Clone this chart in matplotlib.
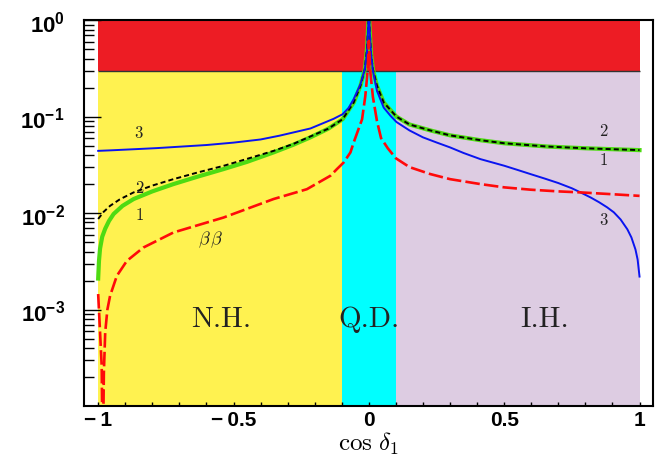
import numpy as np
import matplotlib
matplotlib.use('Agg')
import matplotlib.pyplot as plt
from matplotlib.ticker import FixedLocator, LogLocator, NullFormatter, MultipleLocator

#Colours
red_band = '#ED1C24'
yellow = '#FFF250'
cyan = '#00FFFF'
lavender = '#DDCCE2'

#Regions in cos(delta_1): N.H., Q.D., I.H.
region_edges = [-1.0, -0.1, 0.1, 1.0]
region_colors = [yellow, cyan, lavender]
region_names = ['N.H.', 'Q.D.', 'I.H.']
excluded_min = 0.3   #red band from here up to 1

#Curve 3 (blue)
cos_blue = [-1.0, -0.95, -0.9, -0.85, -0.783, -0.7, -0.6, -0.5, -0.4, -0.33, -0.27, -0.216, -0.167,
            -0.13, -0.097, -0.075, -0.056, -0.031, -0.015, -0.007, -0.002, 0.0,
            0.003, 0.008, 0.015, 0.03, 0.055, 0.08, 0.102, 0.15, 0.2, 0.25, 0.3, 0.35, 0.412,
            0.5, 0.55, 0.597, 0.65, 0.7, 0.75, 0.782, 0.82, 0.85, 0.88, 0.905, 0.93, 0.955,
            0.97, 0.985, 0.993, 1.0]
val_blue = [0.0442, 0.0448, 0.0455, 0.0462, 0.0472, 0.0488, 0.0508, 0.0538, 0.058, 0.0635, 0.0695,
            0.0754, 0.086, 0.095, 0.106, 0.123, 0.152, 0.217, 0.31, 0.46, 0.9, 1.3,
            0.8, 0.45, 0.30, 0.185, 0.124, 0.102, 0.088, 0.072, 0.061, 0.054, 0.048, 0.042, 0.0363,
            0.031, 0.028, 0.0254, 0.0228, 0.0205, 0.0181, 0.0164, 0.0145, 0.013, 0.0115, 0.0102,
            0.0086, 0.0068, 0.0056, 0.0042, 0.0033, 0.0022]

#Curve 2 (black dashed)
cos_black = [-1.0, -0.98, -0.956, -0.92, -0.869, -0.8, -0.722, -0.63, -0.537, -0.45, -0.352,
             -0.28, -0.216, -0.15, -0.097, -0.056, -0.031, -0.015, -0.007, -0.002, 0.0,
             0.003, 0.008, 0.015, 0.03, 0.055, 0.102, 0.15, 0.227, 0.3, 0.412, 0.5, 0.659, 0.8, 1.0]
val_black = [0.0087, 0.0103, 0.0119, 0.0139, 0.0164, 0.0193, 0.0225, 0.0265, 0.0309, 0.0365, 0.0442,
             0.052, 0.0623, 0.075, 0.094, 0.14, 0.209, 0.31, 0.5, 0.9, 1.3,
             0.8, 0.45, 0.31, 0.209, 0.14, 0.1, 0.083, 0.072, 0.064, 0.057, 0.053, 0.049, 0.047, 0.045]

#Curve 1 (green)
cos_green = [-1.0, -0.997, -0.993, -0.985, -0.974, -0.96, -0.943, -0.91, -0.869, -0.8, -0.722,
             -0.63, -0.537, -0.45, -0.352, -0.28, -0.216, -0.15, -0.097, -0.056, -0.031, -0.015,
             -0.007, -0.002, 0.0, 0.003, 0.008, 0.015, 0.03, 0.055, 0.102, 0.15, 0.227, 0.3,
             0.412, 0.5, 0.659, 0.8, 1.0]
val_green = [0.0021, 0.0032, 0.0043, 0.0057, 0.0069, 0.0083, 0.0098, 0.0119, 0.014, 0.0168, 0.020,
             0.024, 0.0286, 0.034, 0.0426, 0.051, 0.061, 0.075, 0.094, 0.14, 0.209, 0.31,
             0.5, 0.9, 1.3, 0.8, 0.45, 0.31, 0.209, 0.14, 0.1, 0.083, 0.072, 0.064,
             0.057, 0.053, 0.049, 0.047, 0.045]

#Neutrinoless double beta (red long dashes)
cos_bb = [-1.0, -0.993, -0.987, -0.983, -0.979, -0.974, -0.966, -0.956, -0.931, -0.894, -0.833,
          -0.722, -0.537, -0.352, -0.229, -0.142, -0.118, -0.093, -0.068, -0.056, -0.025, -0.013,
          -0.004, 0.0, 0.005, 0.015, 0.03, 0.045, 0.07, 0.1, 0.15, 0.227, 0.3, 0.412, 0.5, 0.597,
          0.7, 0.782, 0.9, 1.0]
val_bb = [0.00145, 0.00058, 0.00026, 0.00002, 0.00022, 0.00058, 0.001, 0.00139, 0.00224, 0.0032, 0.0044,
          0.0063, 0.009, 0.014, 0.0177, 0.0244, 0.0286, 0.0335, 0.0426, 0.054, 0.094, 0.164,
          0.31, 0.61, 0.30, 0.16, 0.09, 0.06, 0.047, 0.037, 0.030, 0.0254, 0.0225, 0.020, 0.0185, 0.0175,
          0.0168, 0.0164, 0.0157, 0.0151]

plt.rcParams['mathtext.fontset'] = 'cm'
plt.rcParams['mathtext.bf'] = 'Liberation Sans:bold'
plt.rcParams['mathtext.rm'] = 'Liberation Sans:bold'

fig = plt.figure(figsize=(6.57, 4.6), dpi=100)
ax = fig.add_axes([0.128, 0.115, 0.866, 0.839])

#Background regions
for i in range(3):
    ax.fill_between([region_edges[i], region_edges[i+1]], 1e-4, excluded_min,
                    color=region_colors[i], lw=0, zorder=0)
ax.fill_between([region_edges[0], region_edges[-1]], excluded_min, 1.0, color=red_band, lw=0, zorder=0)
ax.hlines(excluded_min, region_edges[0], region_edges[-1], color='#333333', lw=1.0, zorder=1)

#Curves
ax.plot(cos_green, val_green, color='#4EDB12', lw=3.0, zorder=2)
ax.plot(cos_black, val_black, color='black', lw=1.4, dashes=(2.6, 1.6), zorder=3)
ax.plot(cos_blue, val_blue, color='#0A14F0', lw=1.4, zorder=4)
ax.plot(cos_bb, val_bb, color='#FF0A0A', lw=1.9, dashes=(5.5, 1.6), zorder=5)

ax.set_yscale('log')
ax.set_xlim(-1.052, 1.05)
ax.set_ylim(1e-4, 1.0)

#Curve labels
lab = dict(fontsize=12, fontfamily='cmr10', color='#222222', ha='center', va='center', zorder=6)
ax.text(-0.852, 0.069, '3', **lab)
ax.text(-0.848, 0.0186, '2', **lab)
ax.text(-0.848, 0.0098, '1', **lab)
ax.text(0.867, 0.0724, '2', **lab)
ax.text(0.867, 0.036, '1', **lab)
ax.text(0.867, 0.0087, '3', **lab)
ax.text(-0.585, 0.0054, r'$\beta\,\beta$', fontsize=13, math_fontfamily='cm', color='#222222',
        ha='center', va='center', zorder=6)

#Region names
region_x = [-0.545, 0.0, 0.65]
for xr, name in zip(region_x, region_names):
    ax.text(xr, 0.0008, name, fontsize=21, fontfamily='cmr10',
            color='#222222', ha='center', va='center', zorder=6)

#Ticks
ax.yaxis.set_major_locator(FixedLocator([1e-3, 1e-2, 1e-1, 1.0]))
ax.yaxis.set_minor_locator(LogLocator(base=10, subs=np.arange(2, 10)))
ax.yaxis.set_minor_formatter(NullFormatter())
ax.set_yticklabels([r'$\mathbf{10^{-3}}$', r'$\mathbf{10^{-2}}$', r'$\mathbf{10^{-1}}$', r'$\mathbf{10^{0}}$'],
                   math_fontfamily='custom', fontsize=16)
ax.xaxis.set_major_locator(FixedLocator([-1, -0.5, 0, 0.5, 1]))
ax.xaxis.set_minor_locator(MultipleLocator(0.1))
ax.set_xticklabels(['\u2212\u20091', '\u2212\u20090.5', '0', '0.5', '1'], fontfamily='Liberation Sans',
                   fontweight='bold', fontsize=15)
ax.tick_params(axis='y', which='major', direction='in', length=12, width=1.0, pad=14, right=False)
ax.tick_params(axis='y', which='minor', direction='in', length=7, width=1.0, right=False)
ax.tick_params(axis='x', which='both', direction='in', length=3, width=1.0, pad=3, top=False)

for sp in ax.spines.values():
    sp.set_linewidth(1.5)
    sp.set_zorder(7)

ax.set_xlabel(r'$\cos\,\delta_1$', fontsize=18, math_fontfamily='cm', labelpad=0)

plt.savefig('out.png', dpi=100)
